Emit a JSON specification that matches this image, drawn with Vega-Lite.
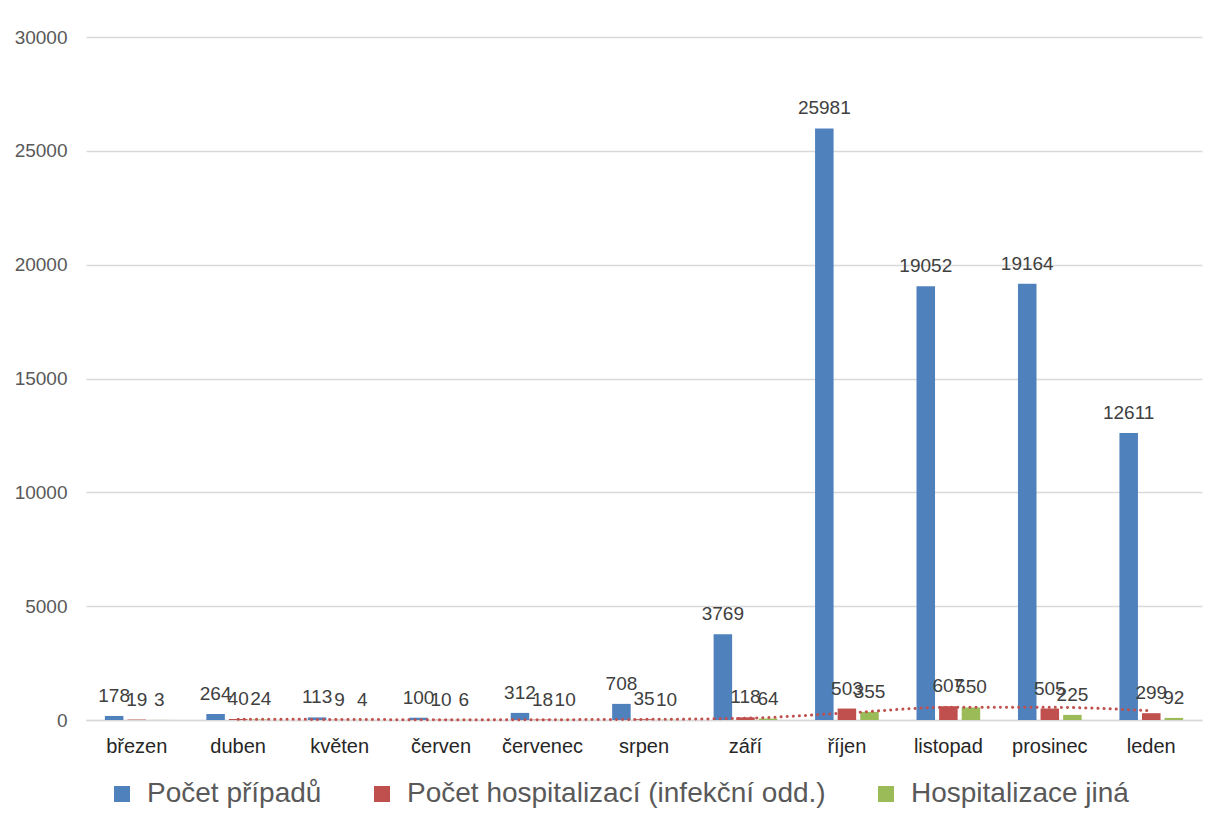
{
  "$schema": "https://vega.github.io/schema/vega-lite/v6.json",
  "width": 1116,
  "height": 683,
  "autosize": {"type": "none"},
  "padding": {"left": 86, "top": 37, "right": 17, "bottom": 109},
  "background": "white",
  "config": {
    "font": "Liberation Sans",
    "view": {"stroke": null},
    "axis": {"labelFont": "Liberation Sans"},
    "legend": {"labelFont": "Liberation Sans"},
    "text": {"font": "Liberation Sans"}
  },
  "datasets": {
    "bars": [
      {"month": "březen", "series": "Počet případů", "value": 178},
      {"month": "březen", "series": "Počet hospitalizací (infekční odd.)", "value": 19},
      {"month": "březen", "series": "Hospitalizace jiná", "value": 3},
      {"month": "duben", "series": "Počet případů", "value": 264},
      {"month": "duben", "series": "Počet hospitalizací (infekční odd.)", "value": 40},
      {"month": "duben", "series": "Hospitalizace jiná", "value": 24},
      {"month": "květen", "series": "Počet případů", "value": 113},
      {"month": "květen", "series": "Počet hospitalizací (infekční odd.)", "value": 9},
      {"month": "květen", "series": "Hospitalizace jiná", "value": 4},
      {"month": "červen", "series": "Počet případů", "value": 100},
      {"month": "červen", "series": "Počet hospitalizací (infekční odd.)", "value": 10},
      {"month": "červen", "series": "Hospitalizace jiná", "value": 6},
      {"month": "červenec", "series": "Počet případů", "value": 312},
      {"month": "červenec", "series": "Počet hospitalizací (infekční odd.)", "value": 18},
      {"month": "červenec", "series": "Hospitalizace jiná", "value": 10},
      {"month": "srpen", "series": "Počet případů", "value": 708},
      {"month": "srpen", "series": "Počet hospitalizací (infekční odd.)", "value": 35},
      {"month": "srpen", "series": "Hospitalizace jiná", "value": 10},
      {"month": "září", "series": "Počet případů", "value": 3769},
      {"month": "září", "series": "Počet hospitalizací (infekční odd.)", "value": 118},
      {"month": "září", "series": "Hospitalizace jiná", "value": 64},
      {"month": "říjen", "series": "Počet případů", "value": 25981},
      {"month": "říjen", "series": "Počet hospitalizací (infekční odd.)", "value": 503},
      {"month": "říjen", "series": "Hospitalizace jiná", "value": 355},
      {"month": "listopad", "series": "Počet případů", "value": 19052},
      {"month": "listopad", "series": "Počet hospitalizací (infekční odd.)", "value": 607},
      {"month": "listopad", "series": "Hospitalizace jiná", "value": 550},
      {"month": "prosinec", "series": "Počet případů", "value": 19164},
      {"month": "prosinec", "series": "Počet hospitalizací (infekční odd.)", "value": 505},
      {"month": "prosinec", "series": "Hospitalizace jiná", "value": 225},
      {"month": "leden", "series": "Počet případů", "value": 12611},
      {"month": "leden", "series": "Počet hospitalizací (infekční odd.)", "value": 299},
      {"month": "leden", "series": "Hospitalizace jiná", "value": 92}
    ],
    "trend": [
      {"month": "duben", "value": 30},
      {"month": "květen", "value": 25},
      {"month": "červen", "value": 10},
      {"month": "červenec", "value": 14},
      {"month": "srpen", "value": 27},
      {"month": "září", "value": 77},
      {"month": "říjen", "value": 310},
      {"month": "listopad", "value": 555},
      {"month": "prosinec", "value": 556},
      {"month": "leden", "value": 402}
    ]
  },
  "encoding": {
    "x": {
      "field": "month",
      "type": "nominal",
      "sort": ["březen", "duben", "květen", "červen", "červenec", "srpen", "září", "říjen", "listopad", "prosinec", "leden"],
      "scale": {"paddingInner": 0.35, "paddingOuter": 0.175},
      "axis": {
        "title": null,
        "labelAngle": 0,
        "labelFontSize": 20,
        "labelColor": "#262626",
        "labelPadding": 16,
        "ticks": false,
        "domainColor": "#d9d9d9",
        "domainWidth": 1.5,
        "grid": false
      }
    }
  },
  "layer": [
    {
      "data": {"name": "bars"},
      "mark": {"type": "bar"},
      "encoding": {
        "xOffset": {
          "field": "series",
          "type": "nominal",
          "sort": ["Počet případů", "Počet hospitalizací (infekční odd.)", "Hospitalizace jiná"],
          "scale": {"paddingInner": 0.18, "paddingOuter": 0.05}
        },
        "y": {
          "field": "value",
          "type": "quantitative",
          "scale": {"domain": [0, 30000], "nice": false},
          "axis": {
            "title": null,
            "values": [0, 5000, 10000, 15000, 20000, 25000, 30000],
            "format": "d",
            "labelFontSize": 19,
            "labelColor": "#595959",
            "labelPadding": 19,
            "ticks": false,
            "domain": false,
            "gridColor": "#d9d9d9",
            "gridWidth": 1.5
          }
        },
        "color": {
          "field": "series",
          "type": "nominal",
          "sort": ["Počet případů", "Počet hospitalizací (infekční odd.)", "Hospitalizace jiná"],
          "scale": {
            "domain": ["Počet případů", "Počet hospitalizací (infekční odd.)", "Hospitalizace jiná"],
            "range": ["#4f81bd", "#c0504d", "#9bbb59"]
          },
          "legend": {
            "title": null,
            "orient": "none",
            "legendX": 22,
            "legendY": 743,
            "direction": "horizontal",
            "symbolType": "square",
            "symbolSize": 256,
            "symbolStrokeWidth": 0,
            "labelFontSize": 28,
            "labelColor": "#595959",
            "labelOffset": 11,
            "columnPadding": 46,
            "labelLimit": 600
          }
        }
      }
    },
    {
      "data": {"name": "bars"},
      "mark": {"type": "text", "baseline": "alphabetic", "dy": -14, "fontSize": 19, "color": "#404040"},
      "encoding": {
        "xOffset": {
          "field": "series",
          "type": "nominal",
          "sort": ["Počet případů", "Počet hospitalizací (infekční odd.)", "Hospitalizace jiná"],
          "scale": {"paddingInner": 0.18, "paddingOuter": 0.05}
        },
        "y": {"field": "value", "type": "quantitative"},
        "text": {"field": "value", "type": "quantitative", "format": "d"}
      }
    },
    {
      "data": {"name": "trend"},
      "mark": {"type": "line", "color": "#c0504d", "strokeWidth": 3, "strokeDash": [0.1, 6], "strokeCap": "round", "interpolate": "monotone"},
      "encoding": {
        "y": {"field": "value", "type": "quantitative"}
      }
    }
  ]
}
